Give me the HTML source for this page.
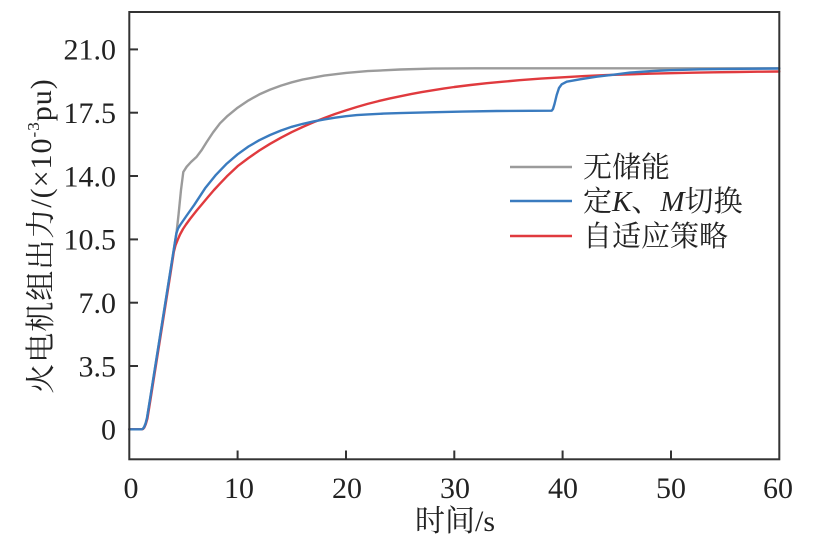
<!DOCTYPE html>
<html>
<head>
<meta charset="utf-8">
<style>
  html, body { margin:0; padding:0; background:#fff; }
  svg { display:block; }
  text { font-family: "Liberation Serif", "Noto Serif CJK SC", serif; fill:#222; }
</style>
</head>
<body>
<svg width="813" height="545" viewBox="0 0 813 545" xmlns="http://www.w3.org/2000/svg">
  <!-- series -->
  <g fill="none" stroke-width="2.4" stroke-linejoin="round" stroke-linecap="round">
    <polyline stroke="#9b9b9b" points="129.3,429.3 141.7,429.3 142.9,428.8 144.2,427 145.6,423.5 147,418 150,399.5 155,368 160,336.5 165,305 170,273.5 175,242 176.7,231 178.5,215 181,190 183.3,172 186.7,166.7 191,162 196.7,156.7 201.7,150 206.7,142 213,132.5 220,123.3 226.8,116.6 237.6,107.7 248.5,100.4 259.3,94.4 270.1,89.6 281,85.6 291.8,82.3 302.6,79.6 324.3,75.6 346,72.9 367.6,71.1 400.1,69.5 432.6,68.6 475,68.3 779.3,68.3"/>
    <polyline stroke="#e03a3e" points="129.3,429.3 141.7,429.3 142.9,429 144.3,427.5 145.8,424 147.4,418.5 150.4,400 155.4,368.5 160.4,337 165.4,305.5 170.4,274 173.8,252 175.6,245 177.6,240 180,234.5 183,229 186,224.5 190,219 196.7,210.5 203,203 208,197 214,190 220,183.6 226.8,176.4 237.6,166.2 248.5,158 259.3,150.5 270.1,143.8 281,137.7 291.8,132.1 302.6,127 313.5,122.3 324.3,118 335,114 346,110.4 356.8,107 367.6,103.9 378.5,101.1 389.3,98.6 400.1,96.3 411,94.1 421.8,92.1 432.6,90.3 443.5,88.6 454.3,87 470.5,85 486.8,83.2 503,81.7 519.3,80.2 541,78.6 562.6,77.3 584.3,76.1 606,75.1 627.6,74.4 649.3,73.7 671,73.2 692.6,72.7 714.3,72.3 736,72 757.6,71.7 779.3,71.5"/>
    <polyline stroke="#3a7bbf" points="129.3,429.3 141.7,429.3 142.9,428.8 144.2,427 145.6,423.5 147,418 150,399.5 155,368 160,336.5 165,305 170,273.5 175,242 176.5,233 178,228.5 180.5,224.5 186.7,215.5 194.3,204.8 205.1,188.3 216,174.8 226.8,163.6 237.6,154.3 248.5,146.5 259.3,140.2 270.1,135 281,130.5 291.8,126.8 302.6,123.9 313.5,121.4 324.3,119.4 335,117.7 346,116.2 356.8,115.1 367.6,114.4 383.8,113.6 400.1,113.1 430,112.3 463,111.6 496.7,111 530,110.8 551.7,110.7 553,109 554.5,104 556.7,95 559,88 561.7,84.3 566.7,81.7 580,79.3 596.7,76.7 616.7,74.3 630,72.6 650,71.2 670,70.2 700,69.3 740,68.8 779.3,68.5"/>
  </g>

  <!-- frame -->
  <rect x="129.3" y="12" width="650" height="447.3" fill="none" stroke="#333" stroke-width="2"/>

  <!-- ticks -->
  <g stroke="#333" stroke-width="2">
    <line x1="129.3" y1="49.4" x2="138" y2="49.4"/>
    <line x1="129.3" y1="112.7" x2="138" y2="112.7"/>
    <line x1="129.3" y1="176.0" x2="138" y2="176.0"/>
    <line x1="129.3" y1="239.4" x2="138" y2="239.4"/>
    <line x1="129.3" y1="302.7" x2="138" y2="302.7"/>
    <line x1="129.3" y1="366.0" x2="138" y2="366.0"/>
    <line x1="237.6" y1="459.3" x2="237.6" y2="450.5"/>
    <line x1="346.0" y1="459.3" x2="346.0" y2="450.5"/>
    <line x1="454.3" y1="459.3" x2="454.3" y2="450.5"/>
    <line x1="562.6" y1="459.3" x2="562.6" y2="450.5"/>
    <line x1="671.0" y1="459.3" x2="671.0" y2="450.5"/>
  </g>

  <!-- y tick labels -->
  <g font-size="30" text-anchor="end">
    <text x="116" y="59.7">21.0</text>
    <text x="116" y="123">17.5</text>
    <text x="116" y="186.3">14.0</text>
    <text x="116" y="249.7">10.5</text>
    <text x="116" y="313">7.0</text>
    <text x="116" y="376.3">3.5</text>
    <text x="116" y="439.6">0</text>
  </g>

  <!-- x tick labels -->
  <g font-size="30" text-anchor="middle">
    <text x="131" y="498">0</text>
    <text x="239" y="498">10</text>
    <text x="347" y="498">20</text>
    <text x="455" y="498">30</text>
    <text x="563" y="498">40</text>
    <text x="671" y="498">50</text>
    <text x="778" y="498">60</text>
  </g>

  <!-- axis titles -->
  <text x="455" y="531" font-size="30" text-anchor="middle">时间/s</text>
  <text transform="translate(51,236) rotate(-90)" font-size="30" letter-spacing="1" text-anchor="middle">火电机组出力/(×10<tspan font-size="17" dy="-12">-3</tspan><tspan dy="12">pu)</tspan></text>

  <!-- legend -->
  <g stroke-width="2.4">
    <line x1="510" y1="167" x2="572" y2="167" stroke="#9b9b9b"/>
    <line x1="510" y1="201" x2="572" y2="201" stroke="#3a7bbf"/>
    <line x1="510" y1="236" x2="572" y2="236" stroke="#e03a3e"/>
  </g>
  <g font-size="29">
    <text x="583" y="177">无储能</text>
    <text x="583" y="211">定<tspan font-style="italic">K</tspan>、<tspan font-style="italic">M</tspan>切换</text>
    <text x="583" y="246">自适应策略</text>
  </g>
</svg>
</body>
</html>
